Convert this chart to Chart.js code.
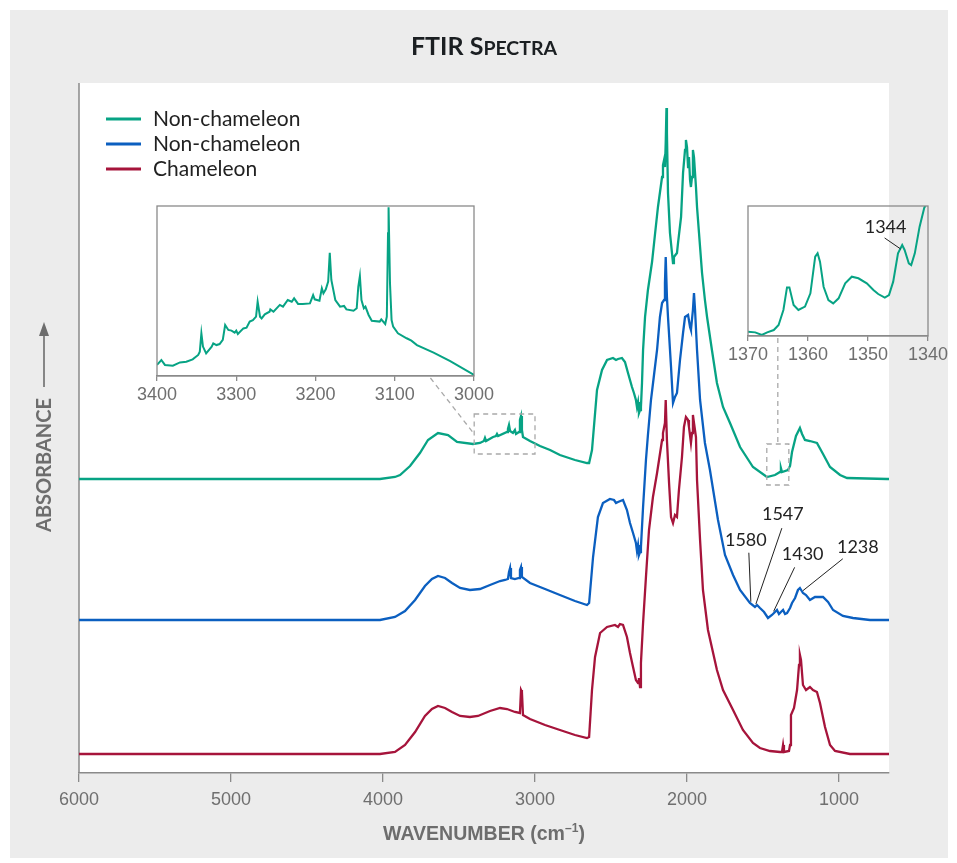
<!DOCTYPE html>
<html>
<head>
<meta charset="utf-8">
<script src="https://cdn.jsdelivr.net/npm/chart.js@4.4.1/dist/chart.umd.min.js"></script>
<style>
  html, body { margin: 0; padding: 0; background: #ffffff; }
  #wrap { position: relative; width: 957px; height: 863px; }
  #wrap canvas { position: absolute; }
  #main { left: 0; top: 0; }
  #insetL { left: 127px; top: 196px; }
  #insetR { left: 718px; top: 196px; }
</style>
</head>
<body>
<div id="wrap">
  <canvas id="main" width="957" height="863"></canvas>
  <canvas id="insetL" width="400" height="216"></canvas>
  <canvas id="insetR" width="235" height="176"></canvas>
</div>
<script>
// ---- Spectra: [wavenumber (cm-1), absorbance above the trace's own baseline] ----
const nonChameleonA = [
  [6000,0],[5500,0],[5000,0],[4500,0],[4020,0],[3921,0.02],[3888,0.04],[3822,0.13],[3757,0.26],
  [3704,0.39],[3638,0.46],[3572,0.44],[3513,0.37],[3408,0.35],[3362,0.36],[3336,0.38],[3329,0.41],
  [3322,0.38],[3276,0.42],[3257,0.43],[3250,0.45],[3243,0.43],[3184,0.47],[3178,0.50],[3171,0.54],
  [3164,0.48],[3145,0.46],[3132,0.49],[3125,0.45],[3105,0.47],[3099,0.59],[3092,0.63],[3086,0.49],
  [3079,0.42],[3033,0.38],[2967,0.33],[2901,0.29],[2836,0.24],[2737,0.19],[2658,0.16],[2644,0.16],
  [2625,0.29],[2592,0.89],[2559,1.09],[2526,1.19],[2487,1.21],[2467,1.19],[2454,1.20],[2428,1.21],
  [2408,1.17],[2388,1.06],[2362,0.92],[2349,0.86],[2336,0.79],[2329,0.72],[2322,0.77],[2316,0.66],
  [2309,0.69],[2303,0.72],[2296,0.96],[2289,1.29],[2276,1.62],[2257,1.89],[2230,2.17],[2211,2.44],
  [2191,2.72],[2164,3.02],[2158,3.14],[2151,3.19],[2145,3.12],[2140,3.36],[2135,3.71],[2132,3.46],
  [2125,2.86],[2112,2.46],[2092,2.16],[2086,2.22],[2066,2.26],[2059,2.36],[2039,2.62],[2026,3.06],
  [2013,3.29],[2007,3.39],[2000,3.32],[1993,3.12],[1987,3.22],[1980,2.99],[1974,2.92],[1967,3.02],
  [1961,3.29],[1954,3.22],[1941,2.92],[1934,2.72],[1921,2.46],[1901,2.06],[1882,1.79],[1868,1.62],
  [1836,1.29],[1803,0.96],[1763,0.72],[1717,0.56],[1651,0.32],[1566,0.12],[1474,0.02],[1421,0.04],
  [1388,0.07],[1382,0.11],[1375,0.07],[1336,0.09],[1322,0.13],[1309,0.27],[1283,0.43],[1257,0.51],
  [1243,0.45],[1224,0.39],[1191,0.38],[1145,0.36],[1105,0.25],[1059,0.12],[993,0.04],[947,0.01],
  [684,0],[671,0]
];
const nonChameleonB = [
  [6000,0],[5500,0],[5000,0],[4500,0],[4020,0],[3921,0.03],[3855,0.09],[3789,0.20],[3724,0.34],
  [3678,0.41],[3638,0.44],[3592,0.42],[3546,0.37],[3493,0.32],[3428,0.30],[3362,0.31],[3296,0.35],
  [3230,0.39],[3197,0.40],[3178,0.41],[3171,0.48],[3164,0.52],[3158,0.42],[3132,0.41],[3105,0.42],
  [3099,0.50],[3092,0.53],[3086,0.43],[3033,0.37],[2934,0.31],[2836,0.25],[2737,0.19],[2658,0.15],
  [2644,0.17],[2618,0.63],[2586,1.03],[2553,1.17],[2507,1.21],[2480,1.20],[2467,1.17],[2454,1.18],
  [2421,1.20],[2395,1.10],[2375,0.97],[2355,0.87],[2336,0.77],[2329,0.69],[2322,0.75],[2316,0.65],
  [2309,0.68],[2303,0.73],[2289,1.13],[2270,1.60],[2257,1.85],[2237,2.20],[2217,2.45],[2197,2.70],
  [2178,3.03],[2164,3.17],[2151,3.20],[2145,3.37],[2140,3.63],[2132,3.23],[2125,3.03],[2105,2.53],
  [2092,2.17],[2079,2.23],[2066,2.27],[2046,2.60],[2026,2.87],[2013,3.03],[1993,3.05],[1980,2.93],
  [1974,2.90],[1961,3.10],[1954,3.27],[1947,3.10],[1934,2.70],[1914,2.20],[1882,1.77],[1849,1.50],
  [1796,1.00],[1750,0.65],[1697,0.45],[1651,0.30],[1586,0.17],[1553,0.13],[1539,0.15],[1520,0.12],
  [1493,0.08],[1467,0.02],[1441,0.05],[1421,0.08],[1408,0.10],[1395,0.06],[1382,0.08],[1368,0.10],
  [1355,0.06],[1342,0.07],[1322,0.12],[1309,0.17],[1289,0.22],[1270,0.30],[1257,0.32],[1237,0.27],
  [1217,0.25],[1191,0.20],[1158,0.23],[1105,0.23],[1072,0.18],[1039,0.10],[974,0.04],[908,0.02],
  [796,0],[671,0]
];
const chameleon = [
  [6000,0],[5500,0],[5000,0],[4500,0],[4020,0],[3921,0.02],[3855,0.09],[3789,0.22],[3724,0.38],
  [3678,0.45],[3638,0.48],[3592,0.46],[3546,0.42],[3493,0.38],[3428,0.37],[3375,0.38],[3296,0.43],
  [3230,0.46],[3184,0.45],[3132,0.42],[3099,0.41],[3092,0.64],[3086,0.62],[3079,0.39],[3033,0.35],
  [2934,0.29],[2836,0.24],[2737,0.19],[2658,0.16],[2644,0.17],[2625,0.64],[2605,0.97],[2572,1.21],
  [2526,1.27],[2474,1.29],[2454,1.27],[2441,1.30],[2421,1.29],[2395,1.17],[2375,1.01],[2355,0.87],
  [2336,0.74],[2322,0.71],[2316,0.76],[2309,0.67],[2303,0.91],[2289,1.31],[2270,1.77],[2250,2.24],
  [2224,2.57],[2197,2.81],[2184,2.94],[2164,3.14],[2158,3.21],[2145,3.31],[2140,3.54],[2132,3.14],
  [2118,2.71],[2105,2.37],[2092,2.31],[2079,2.39],[2066,2.37],[2053,2.64],[2033,2.97],[2020,3.27],
  [2007,3.37],[1993,3.34],[1987,3.27],[1974,3.11],[1967,3.21],[1961,3.39],[1954,3.31],[1941,3.17],
  [1934,2.74],[1914,2.14],[1895,1.64],[1862,1.24],[1803,0.84],[1763,0.64],[1697,0.44],[1632,0.24],
  [1566,0.11],[1520,0.06],[1454,0.03],[1388,0.02],[1375,0.02],[1368,0.09],[1362,0.02],[1329,0.03],
  [1322,0.09],[1316,0.39],[1296,0.46],[1276,0.64],[1263,0.89],[1257,0.99],[1250,0.94],[1237,0.69],
  [1217,0.64],[1191,0.67],[1171,0.64],[1145,0.62],[1125,0.51],[1092,0.27],[1059,0.09],[1026,0.03],
  [928,0],[671,0]
];

// Detail of the upper trace, 3400-3000 cm-1 (relative absorbance)
const detailCH = [
  [3400,0.065],[3394.5,0.094],[3390,0.065],[3380,0.061],[3371,0.080],[3363,0.084],[3355,0.098],
  [3348,0.124],[3346,0.143],[3344,0.251],[3342,0.173],[3338,0.133],[3331,0.173],[3329,0.192],
  [3325,0.182],[3321,0.188],[3317,0.212],[3314,0.300],[3310,0.271],[3306,0.267],[3302,0.255],
  [3300,0.267],[3298,0.247],[3291,0.280],[3287,0.284],[3283,0.320],[3279,0.329],[3275,0.349],
  [3273,0.437],[3270,0.349],[3268,0.339],[3264,0.363],[3258,0.378],[3257,0.392],[3253,0.378],
  [3245,0.418],[3241,0.408],[3235,0.447],[3230,0.437],[3227,0.457],[3222,0.424],[3216,0.424],
  [3207,0.427],[3203,0.476],[3201,0.451],[3195,0.443],[3192,0.516],[3190,0.486],[3187,0.510],
  [3184,0.555],[3182,0.725],[3180,0.565],[3175,0.447],[3169,0.408],[3164,0.412],[3161,0.392],
  [3152,0.384],[3148,0.398],[3146,0.525],[3144,0.588],[3142,0.447],[3139,0.398],[3137,0.408],
  [3133,0.359],[3129,0.325],[3119,0.320],[3117,0.333],[3112,0.306],[3110,0.349],[3108.5,0.839],
  [3107.8,0.992],[3106,0.545],[3104,0.329],[3102,0.290],[3096,0.251],[3085,0.222],[3079,0.208],
  [3072,0.182],[3051,0.137],[3030,0.088],[3000,0.006]
];
// Detail of the upper trace, 1370-1340 cm-1 (relative absorbance)
const detailLow = [
  [1370,0.033],[1368.8,0.028],[1367.7,0.008],[1366.8,0.028],[1365.7,0.046],[1364.9,0.085],
  [1364.1,0.200],[1363.5,0.374],[1363.1,0.374],[1362.4,0.238],[1361.6,0.200],[1360.5,0.226],
  [1359.6,0.328],[1358.8,0.610],[1358.4,0.636],[1358.0,0.572],[1357.4,0.379],[1356.6,0.277],
  [1355.8,0.251],[1354.9,0.290],[1353.8,0.405],[1352.7,0.456],[1351.6,0.444],[1350.2,0.405],
  [1349.1,0.354],[1348.3,0.323],[1347.2,0.295],[1346.5,0.315],[1345.8,0.418],[1345.0,0.636],
  [1344.3,0.700],[1343.9,0.662],[1343.2,0.559],[1342.8,0.546],[1342.2,0.636],[1341.4,0.841],
  [1340.6,0.990],[1340.4,1.0]
];

const seriesNames   = ['Non-chameleon', 'Non-chameleon', 'Chameleon'];
const seriesColors  = ['#07a384', '#0b5fc0', '#a6143b'];
const seriesOffsets = [2.94, 1.53, 0.19];   // vertical stacking of the traces
const mainTicks     = [6000, 5000, 4000, 3000, 2000, 1000];
const detailTicksCH  = [3400, 3300, 3200, 3100, 3000];
const detailTicksLow = [1370, 1360, 1350, 1340];
const bandLabels    = [1580, 1547, 1430, 1238];   // marked on the middle trace
const lowBandLabel  = 1344;
// enlarged regions of the upper trace: [high wn, low wn, low abs, high abs] (stacked units)
const detailRegions = [[3400, 3000, 3.19, 3.59], [1475, 1330, 2.88, 3.29]];

const tickFont = { family: '"Liberation Sans", Arial, sans-serif', size: 18 };
const labelFamily = 'Lato, "Noto Sans", sans-serif';
const GRAY = '#8a8a8a';
const TICK_GRAY = '#6f6f6f';

// ---- detail charts ----
function detailChart(id, points, lo, hi, ticks, padding, axisH, extra) {
  return new Chart(document.getElementById(id), {
    type: 'line',
    data: { datasets: [{
      data: points.map(([w, a]) => ({ x: w, y: a })),
      borderColor: seriesColors[0], borderWidth: 2, pointRadius: 0, tension: 0
    }]},
    options: {
      responsive: false, animation: false, events: [],
      layout: { padding },
      plugins: { legend: { display: false }, tooltip: { enabled: false } },
      scales: {
        x: {
          type: 'linear', reverse: true, min: lo, max: hi,
          afterBuildTicks: s => { s.ticks = ticks.map(v => ({ value: v })); },
          afterFit: s => { s.height = axisH; },
          grid: { drawOnChartArea: false, tickLength: 5, color: GRAY, lineWidth: 1.3 },
          border: { color: GRAY, width: 1.3 },
          ticks: { color: TICK_GRAY, font: tickFont, padding: 3, maxRotation: 0, autoSkip: false,
                   callback: v => String(v) }
        },
        y: { display: false, min: 0, max: 1 }
      }
    },
    plugins: [{
      id: 'frame',
      afterDraw(chart) {
        const { ctx, chartArea: a } = chart;
        ctx.save();
        ctx.strokeStyle = GRAY; ctx.lineWidth = 1.3;
        ctx.strokeRect(a.left, a.top, a.right - a.left, a.bottom - a.top);
        ctx.restore();
        if (extra) extra(chart);
      }
    }]
  });
}

const insetL = detailChart('insetL', detailCH, 3000, 3400, detailTicksCH,
  { left: 30, right: 53, top: 10, bottom: 0 }, 36);

const insetR = detailChart('insetR', detailLow, 1340, 1370, detailTicksLow,
  { left: 30, right: 25, top: 10, bottom: 0 }, 36, chart => {
    const { ctx } = chart;
    const ds = chart.data.datasets[0].data;
    const p = ds.reduce((b, d) => Math.abs(d.x - lowBandLabel) < Math.abs(b.x - lowBandLabel) ? d : b);
    const px = chart.scales.x.getPixelForValue(p.x), py = chart.scales.y.getPixelForValue(p.y);
    ctx.save();
    ctx.strokeStyle = '#222'; ctx.lineWidth = 1;
    ctx.beginPath(); ctx.moveTo(px - 20, py - 12); ctx.lineTo(px - 4, py - 1); ctx.stroke();
    ctx.fillStyle = '#222'; ctx.font = '18px ' + labelFamily;
    ctx.textAlign = 'center'; ctx.textBaseline = 'middle';
    ctx.fillText(String(lowBandLabel), px - 19, py - 23);
    ctx.restore();
  });

// ---- main chart ----
function valueAt(series, wn) {
  for (let i = 0; i < series.length - 1; i++) {
    const [w1, a1] = series[i], [w2, a2] = series[i + 1];
    if (wn <= w1 && wn >= w2) return a1 + (a2 - a1) * (wn - w1) / (w2 - w1);
  }
  return 0;
}

const canvasMain = document.getElementById('main');
const sources = [nonChameleonA, nonChameleonB, chameleon];

const decor = {
  id: 'decor',
  beforeDraw(chart) {
    const { ctx, chartArea: a, width, height } = chart;
    ctx.save();
    ctx.fillStyle = '#ffffff'; ctx.fillRect(0, 0, width, height);
    ctx.fillStyle = '#ececec'; ctx.fillRect(10, 10, width - 19, height - 15);
    ctx.fillStyle = '#ffffff'; ctx.fillRect(a.left, a.top, a.right - a.left, a.bottom - a.top);
    ctx.strokeStyle = GRAY; ctx.lineWidth = 1.5;
    ctx.beginPath(); ctx.moveTo(a.left, a.top); ctx.lineTo(a.left, a.bottom); ctx.stroke();
    ctx.restore();
  },
  afterDraw(chart) {
    const { ctx, chartArea: a } = chart;
    const xs = chart.scales.x, ys = chart.scales.y;
    const cx = (a.left + a.right) / 2;
    ctx.save();

    // title in small capitals
    const big = 'bold 25px ' + labelFamily, small = 'bold 19.5px ' + labelFamily;
    const parts = [['FTIR S', big], ['PECTRA', small]];
    let tw = 0;
    parts.forEach(([t, f]) => { ctx.font = f; tw += ctx.measureText(t).width; });
    let tx = cx - tw / 2;
    ctx.fillStyle = '#1b1f22'; ctx.textBaseline = 'alphabetic'; ctx.textAlign = 'left';
    parts.forEach(([t, f]) => { ctx.font = f; ctx.fillText(t, tx, 55); tx += ctx.measureText(t).width; });

    // legend
    chart.data.datasets.forEach((d, i) => {
      const y = 119 + i * 25;
      ctx.strokeStyle = d.borderColor; ctx.lineWidth = 3;
      ctx.beginPath(); ctx.moveTo(a.left + 27, y); ctx.lineTo(a.left + 62, y); ctx.stroke();
      ctx.fillStyle = '#222'; ctx.font = '21px ' + labelFamily;
      ctx.textBaseline = 'middle'; ctx.fillText(d.label, a.left + 74, y);
    });

    // y axis caption with arrow
    ctx.save();
    ctx.translate(45, 465); ctx.rotate(-Math.PI / 2);
    ctx.fillStyle = '#6d6d6d'; ctx.font = 'bold 20px ' + labelFamily;
    ctx.textAlign = 'center'; ctx.textBaseline = 'middle';
    ctx.fillText('ABSORBANCE', 0, 0);
    ctx.restore();
    ctx.strokeStyle = '#6d6d6d'; ctx.lineWidth = 1.6;
    ctx.beginPath(); ctx.moveTo(44, 387); ctx.lineTo(44, 332); ctx.stroke();
    ctx.fillStyle = '#6d6d6d';
    ctx.beginPath(); ctx.moveTo(44, 322); ctx.lineTo(49, 336); ctx.lineTo(39, 336); ctx.closePath(); ctx.fill();

    // x axis caption, condensed
    ctx.save();
    ctx.fillStyle = '#6d6d6d'; ctx.textBaseline = 'alphabetic'; ctx.textAlign = 'left';
    const f1 = 'bold 21px "Liberation Sans", Arial, sans-serif', f2 = 'bold 13px "Liberation Sans", Arial, sans-serif';
    const s1 = 'WAVENUMBER (cm', s2 = '\u20131', s3 = ')';
    ctx.font = f1; const w1 = ctx.measureText(s1).width, w3 = ctx.measureText(s3).width;
    ctx.font = f2; const w2 = ctx.measureText(s2).width;
    const sx = 0.93, total = (w1 + w2 + w3) * sx;
    ctx.translate(cx - total / 2, 840); ctx.scale(sx, 1);
    ctx.font = f1; ctx.fillText(s1, 0, 0);
    ctx.font = f2; ctx.fillText(s2, w1, -8);
    ctx.font = f1; ctx.fillText(s3, w1 + w2, 0);
    ctx.restore();

    // enlarged regions and their connectors
    ctx.strokeStyle = '#a9a9a9'; ctx.lineWidth = 1.3; ctx.setLineDash([5, 4]);
    const boxes = detailRegions.map(([w1, w2, lo, hi]) => {
      const l = xs.getPixelForValue(w1), r = xs.getPixelForValue(w2);
      const t = ys.getPixelForValue(hi), b = ys.getPixelForValue(lo);
      ctx.strokeRect(l, t, r - l, b - t);
      return { l, r, t, b };
    });
    const cL = insetL.canvas, cR = insetR.canvas;
    const lx = cL.offsetLeft + insetL.scales.x.getPixelForValue(3055);
    const ly = cL.offsetTop + insetL.chartArea.bottom + 2;
    ctx.beginPath(); ctx.moveTo(lx, ly); ctx.lineTo(boxes[0].l, (boxes[0].t + boxes[0].b) / 2); ctx.stroke();
    const rx = (boxes[1].l + boxes[1].r) / 2;
    const ry = cR.offsetTop + insetR.chartArea.bottom + 2;
    ctx.beginPath(); ctx.moveTo(rx, ry); ctx.lineTo(rx, boxes[1].t); ctx.stroke();
    ctx.setLineDash([]);

    // band labels on the middle trace
    const offs = { 1580: [-2, -51, -5, -64], 1547: [26, -78, 27, -92], 1430: [21, -46, 29, -59], 1238: [40, -34, 55, -46] };
    ctx.strokeStyle = '#222'; ctx.lineWidth = 1; ctx.fillStyle = '#222';
    ctx.font = '18px ' + labelFamily; ctx.textAlign = 'center'; ctx.textBaseline = 'middle';
    bandLabels.forEach(w => {
      const px = xs.getPixelForValue(w);
      const py = ys.getPixelForValue(valueAt(nonChameleonB, w) + seriesOffsets[1]);
      const [ldx, ldy, tdx, tdy] = offs[w];
      ctx.beginPath(); ctx.moveTo(px + ldx, py + ldy); ctx.lineTo(px, py - 2); ctx.stroke();
      ctx.fillText(String(w), px + tdx, py + tdy);
    });
    ctx.restore();
  }
};

new Chart(canvasMain, {
  type: 'line',
  data: {
    datasets: sources.map((s, i) => ({
      label: seriesNames[i],
      data: s.map(([w, a]) => ({ x: w, y: a + seriesOffsets[i] })),
      borderColor: seriesColors[i], borderWidth: 2.3, pointRadius: 0, tension: 0, fill: false
    }))
  },
  options: {
    responsive: false, animation: false, events: [],
    layout: { padding: { left: 79, right: 68, top: 83, bottom: 0 } },
    plugins: { legend: { display: false }, tooltip: { enabled: false } },
    scales: {
      x: {
        type: 'linear', reverse: true, min: 671, max: 6000,
        afterBuildTicks: s => { s.ticks = mainTicks.map(v => ({ value: v })); },
        afterFit: s => { s.height = 90; },
        grid: { drawOnChartArea: false, tickLength: 9, color: GRAY, lineWidth: 1.3 },
        border: { color: GRAY, width: 1.5 },
        ticks: { color: TICK_GRAY, font: tickFont, padding: 7, maxRotation: 0, autoSkip: false,
                 callback: v => String(v) }
      },
      y: { display: false, min: 0, max: 6.9 }
    }
  },
  plugins: [decor]
});
</script>
</body>
</html>
